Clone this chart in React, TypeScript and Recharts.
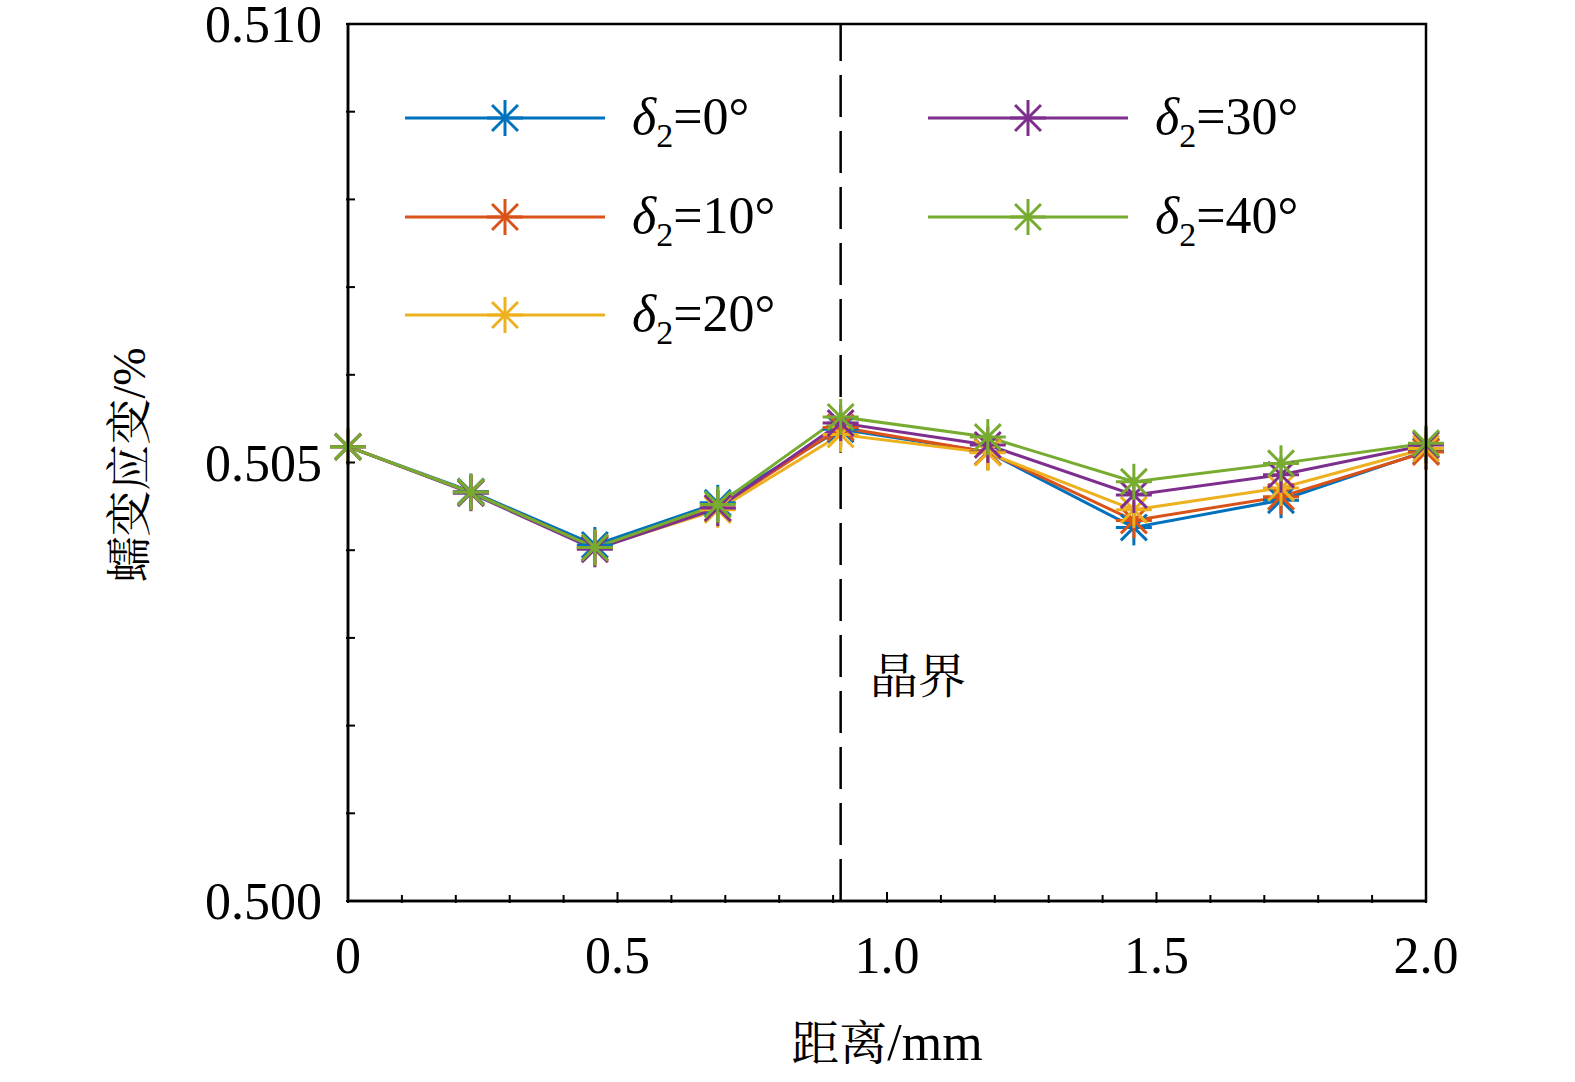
import React from "react";
import { LineChart, Line, XAxis, YAxis, ReferenceLine } from "recharts";

const distances = [0, 0.228, 0.458, 0.686, 0.914, 1.187, 1.458, 1.731, 2.0];
const s0 = [0.50518, 0.50467, 0.50406, 0.50454, 0.50538, 0.50512, 0.50426, 0.50457, 0.50513];
const s10 = [0.50518, 0.50466, 0.50403, 0.50448, 0.50540, 0.50512, 0.50434, 0.50461, 0.50512];
const s20 = [0.50518, 0.50466, 0.50402, 0.50446, 0.50532, 0.50511, 0.50446, 0.50471, 0.50516];
const s30 = [0.50518, 0.50465, 0.50401, 0.50448, 0.50545, 0.50520, 0.50463, 0.50486, 0.50520];
const s40 = [0.50518, 0.50466, 0.50403, 0.50452, 0.50552, 0.50529, 0.50478, 0.50499, 0.50522];
const seriesNames = ["0", "10", "20", "30", "40"];
const colors = ["#0072BD", "#D95319", "#EDB120", "#7E2F8E", "#77AC30"];
const yTicks = [0.5, 0.501, 0.502, 0.503, 0.504, 0.505, 0.506, 0.507, 0.508, 0.509, 0.51];
const yLabels: Record<string, string> = { "0.5": "0.500", "0.505": "0.505", "0.51": "0.510" };
const xTicks = [0, 0.1, 0.2, 0.3, 0.4, 0.5, 0.6, 0.7, 0.8, 0.9, 1.0, 1.1, 1.2, 1.3, 1.4, 1.5, 1.6, 1.7, 1.8, 1.9, 2.0];
const xLabels: Record<string, string> = { "0": "0", "0.5": "0.5", "1": "1.0", "1.5": "1.5", "2": "2.0" };

const allSeries = [s0, s10, s20, s30, s40];
const data = distances.map((d, i) => {
  const row: any = { x: d };
  allSeries.forEach((s, k) => (row["s" + k] = s[i]));
  return row;
});

const FONT = "'Liberation Serif', 'Times New Roman', serif";
const CJK = "'Noto Serif CJK SC', 'Noto Sans CJK SC', serif";

function Star({ cx, cy, color, r = 18 }: any) {
  if (cx == null || cy == null) return null;
  const d = r * 0.72;
  return (
    <g stroke={color} strokeWidth={3}>
      <line x1={cx - r} y1={cy} x2={cx + r} y2={cy} />
      <line x1={cx} y1={cy - r} x2={cx} y2={cy + r} />
      <line x1={cx - d} y1={cy - d} x2={cx + d} y2={cy + d} />
      <line x1={cx - d} y1={cy + d} x2={cx + d} y2={cy - d} />
    </g>
  );
}

function YTick({ x, y, payload }: any) {
  const key = String(Number(payload.value.toFixed(3)));
  const lab = yLabels[key];
  return (
    <g>
      <line x1={x} y1={y} x2={x + 9} y2={y} stroke="#000" strokeWidth={2} />
      {lab && (
        <text x={x - 24} y={y + 18} textAnchor="end" fontSize={52} fontFamily={FONT} fill="#000">
          {lab}
        </text>
      )}
    </g>
  );
}

function XTick({ x, y, payload }: any) {
  const key = String(Number(payload.value.toFixed(1)));
  const lab = xLabels[key];
  return (
    <g>
      <line x1={x} y1={y} x2={x} y2={y - (lab ? 11 : 8)} stroke="#000" strokeWidth={2} />
      {lab && (
        <text x={x} y={y + 70} textAnchor="middle" fontSize={52} fontFamily={FONT} fill="#000">
          {lab}
        </text>
      )}
    </g>
  );
}

function Legend() {
  const items = [
    { i: 0, lx: 405, ty: 118 },
    { i: 1, lx: 405, ty: 217 },
    { i: 2, lx: 405, ty: 315 },
    { i: 3, lx: 928, ty: 118 },
    { i: 4, lx: 928, ty: 217 },
  ];
  return (
    <svg width={1575} height={1082} style={{ position: "absolute", left: 0, top: 0, pointerEvents: "none" }}>
      {items.map((it) => (
        <g key={it.i}>
          <line x1={it.lx} y1={it.ty} x2={it.lx + 200} y2={it.ty} stroke={colors[it.i]} strokeWidth={3} />
          <Star cx={it.lx + 100} cy={it.ty} color={colors[it.i]} />
          <text x={it.lx + 227} y={it.ty + 16} fontSize={52} fontFamily={FONT} fill="#000">
            <tspan fontStyle="italic">δ</tspan>
            <tspan fontSize={34} dy={13}>2</tspan>
            <tspan dy={-13}>={seriesNames[it.i]}°</tspan>
          </text>
        </g>
      ))}
      <text x={870} y={693} fontSize={48} fontFamily={CJK} fill="#000">晶界</text>
      <text transform="translate(145,465) rotate(-90)" textAnchor="middle" fontSize={46} fontFamily={FONT} fill="#000">
        <tspan fontFamily={CJK}>蠕变应变</tspan>/%
      </text>
      <text x={887} y={1060} textAnchor="middle" fontSize={52} fontFamily={FONT} fill="#000">
        <tspan fontFamily={CJK} fontSize={48}>距离</tspan>/mm
      </text>
      <rect x={348} y={24} width={1078} height={877} fill="none" stroke="#000" strokeWidth={2.5} />
    </svg>
  );
}

export default function App() {
  return (
    <div style={{ position: "absolute", left: 0, top: 0, width: 1575, height: 1082, background: "#fff" }}>
      <LineChart width={1575} height={1082} data={data} margin={{ top: 24, right: 149, left: 248, bottom: 121 }}>
        <XAxis dataKey="x" type="number" domain={[0, 2]} ticks={xTicks} tick={<XTick />} tickLine={false} tickSize={0} height={60} axisLine={{ stroke: "#000", strokeWidth: 2.5 }} interval={0} padding={{ left: 0, right: 0 }} />
        <YAxis type="number" domain={[0.5, 0.51]} ticks={yTicks} tick={<YTick />} tickLine={false} tickSize={0} width={100} axisLine={{ stroke: "#000", strokeWidth: 2.5 }} interval={0} />
        <ReferenceLine x={0.914} stroke="#000" strokeWidth={2.5} strokeDasharray="42 14" />
        {colors.map((c, k) => (
          <Line key={k} dataKey={"s" + k} stroke={c} strokeWidth={3} isAnimationActive={false}
            dot={(p: any) => <Star key={p.index} cx={p.cx} cy={p.cy} color={c} />} activeDot={false} />
        ))}
      </LineChart>
      <Legend />
    </div>
  );
}
